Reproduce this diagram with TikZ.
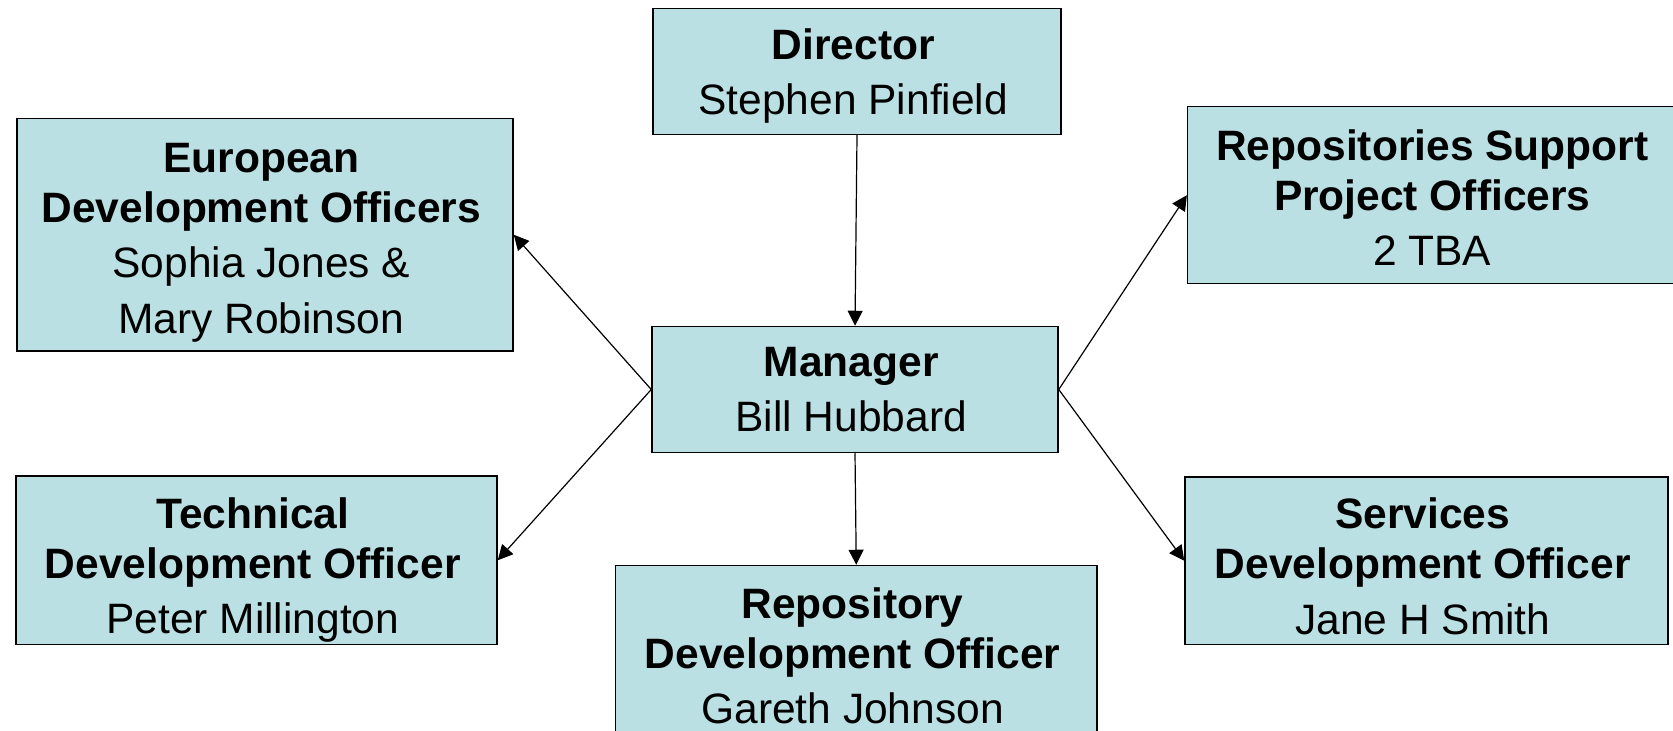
\documentclass[tikz,border=0pt]{standalone}
\usepackage{fontspec}
\setmainfont{Liberation Sans}
\usetikzlibrary{arrows.meta}
\definecolor{boxfill}{HTML}{BBE0E3}
\newcommand\shl[1]{#1\kern3.7pt}
\newcommand\topstrut[1]{\rule{0pt}{#1}}
\begin{document}
\begin{tikzpicture}[x=0.5pt,y=-0.5pt,
  box/.style={draw=black, line width=0.75pt, fill=boxfill, align=center,
    inner sep=0pt, text depth=0pt, font=\fontsize{21.25}{25}\selectfont},
  arr/.style={line width=0.6pt, -{Triangle[length=7.5pt,width=7.5pt]}}]
\useasboundingbox (0,0) rectangle (1673,731);
\clip (0,0) rectangle (1673,731);
\node[box, minimum width=204pt, minimum height=63pt] (dir) at (857,71.5)
  {\shl{\textbf{Director}}\\[2.75pt]\shl{Stephen Pinfield}};
\node[box, minimum width=203pt, minimum height=63pt] (mgr) at (855,389.5)
  {\shl{\textbf{Manager}}\\[2.75pt]\shl{Bill Hubbard}};
\node[box, minimum width=248pt, minimum height=116.25pt] (eu) at (265,234.75)
  {\shl{\topstrut{17.9pt}\textbf{European}}\\\shl{\textbf{Development Officers}}\\[2.75pt]\shl{Sophia Jones \&}\\[2.75pt]\shl{Mary Robinson}};
\node[box, minimum width=240.5pt, minimum height=84.25pt] (tech) at (256.5,560.25)
  {\shl{\topstrut{20.5pt}\textbf{Technical}}\\\shl{\textbf{Development Officer}}\\[2.75pt]\shl{Peter Millington}};
\node[box, minimum width=240.75pt, minimum height=90pt] (repo) at (856.25,655.5)
  {\shl{\textbf{Repository}}\\\shl{\textbf{Development Officer}}\\[2.75pt]\shl{Gareth Johnson}};
\node[box, minimum width=248.4pt, minimum height=88.5pt] (rss) at (1436,195.25)
  {\shl{\topstrut{17.7pt}\textbf{Repositories Support}}\\\shl{\textbf{Project Officers}}\\[2.75pt]\shl{2 TBA}};
\node[box, minimum width=241.5pt, minimum height=83.75pt] (serv) at (1426.5,560.75)
  {\shl{\topstrut{20.5pt}\textbf{Services}}\\\shl{\textbf{Development Officer}}\\[2.75pt]\shl{Jane H Smith}};
\draw[arr] (dir.south) -- (mgr.north);
\draw[arr] (mgr.west) -- (eu.east);
\draw[arr] (mgr.west) -- (tech.east);
\draw[arr] (mgr.east) -- (rss.west);
\draw[arr] (mgr.east) -- (serv.west);
\draw[arr] (mgr.south) -- (repo.north);
\end{tikzpicture}
\end{document}
